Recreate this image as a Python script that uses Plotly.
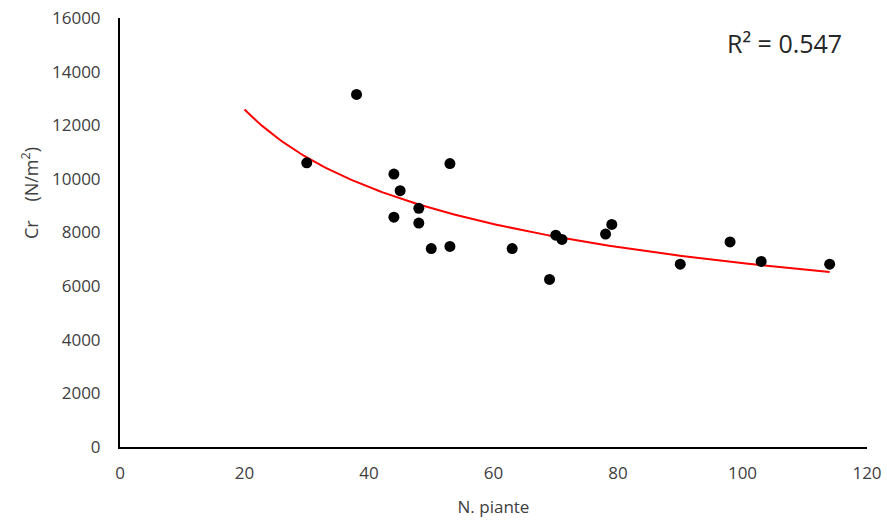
import numpy as np
import plotly.graph_objects as go

# Data
n_piante = [30, 38, 44, 44, 45, 48, 48, 50, 53, 53, 63, 69, 70, 71, 78, 79, 90, 98, 103, 114]
cr_values = [10600, 13150, 10180, 8570, 9560, 8900, 8350, 7400, 10570, 7480, 7400, 6250, 7900, 7740, 7940, 8300, 6820, 7650, 6920, 6820]

x_ticks = [0, 20, 40, 60, 80, 100, 120]
y_ticks = [0, 2000, 4000, 6000, 8000, 10000, 12000, 14000, 16000]
y_tick_labels = [str(v) for v in y_ticks]
r2_label = "R² = 0.547"
y_title = "Cr    (N/m<sup>2</sup>)"
trend_start = 20
trend_end = 114

# Power trendline (least squares in log-log space, like Excel)
b, ln_a = np.polyfit(np.log(n_piante), np.log(cr_values), 1)
a = np.exp(ln_a)
xt = np.linspace(trend_start, trend_end, 200)
yt = a * xt ** b

fig = go.Figure()
fig.add_trace(go.Scatter(x=xt, y=yt, mode="lines",
                         line=dict(color="#ff0000", width=2), hoverinfo="skip"))
fig.add_trace(go.Scatter(x=n_piante, y=cr_values, mode="markers",
                         marker=dict(color="black", size=11)))

font_family = "Open Sans, Liberation Sans, sans-serif"
txt_color = "#404040"
fig.update_layout(
    width=887, height=522,
    margin=dict(l=120, r=20, t=18, b=75),
    paper_bgcolor="white", plot_bgcolor="white",
    showlegend=False,
    font=dict(family=font_family, size=17, color=txt_color),
    xaxis=dict(range=[0, 120], tickvals=x_ticks, showgrid=False, zeroline=False,
               showline=True, linecolor="black", linewidth=2, ticks="", automargin=False,
               ticklabelstandoff=10,
               title=dict(text="N. piante", font=dict(size=17, color=txt_color), standoff=18),
               tickfont=dict(size=17, color=txt_color)),
    yaxis=dict(range=[0, 16000], tickvals=y_ticks, ticktext=y_tick_labels,
               showgrid=False, zeroline=False, automargin=False,
               showline=True, linecolor="black", linewidth=2, ticks="",
               ticklabelstandoff=14,
               tickfont=dict(size=17, color=txt_color)),
)
# y-axis title placed as rotated text (sits above the plot centre, as in the reference)
fig.add_annotation(x=-0.1205, y=0.592, xref="paper", yref="paper", text=y_title,
                   textangle=-90, showarrow=False, xanchor="center", yanchor="middle",
                   font=dict(size=18, color=txt_color, family=font_family))
fig.add_annotation(x=0.89, y=0.942, xref="paper", yref="paper", text=r2_label,
                   showarrow=False, xanchor="center", yanchor="middle",
                   font=dict(size=25, color="#262626", family=font_family))

fig.write_html("out.html", config={"displayModeBar": False},
               post_script="document.body.style.margin='0';")
